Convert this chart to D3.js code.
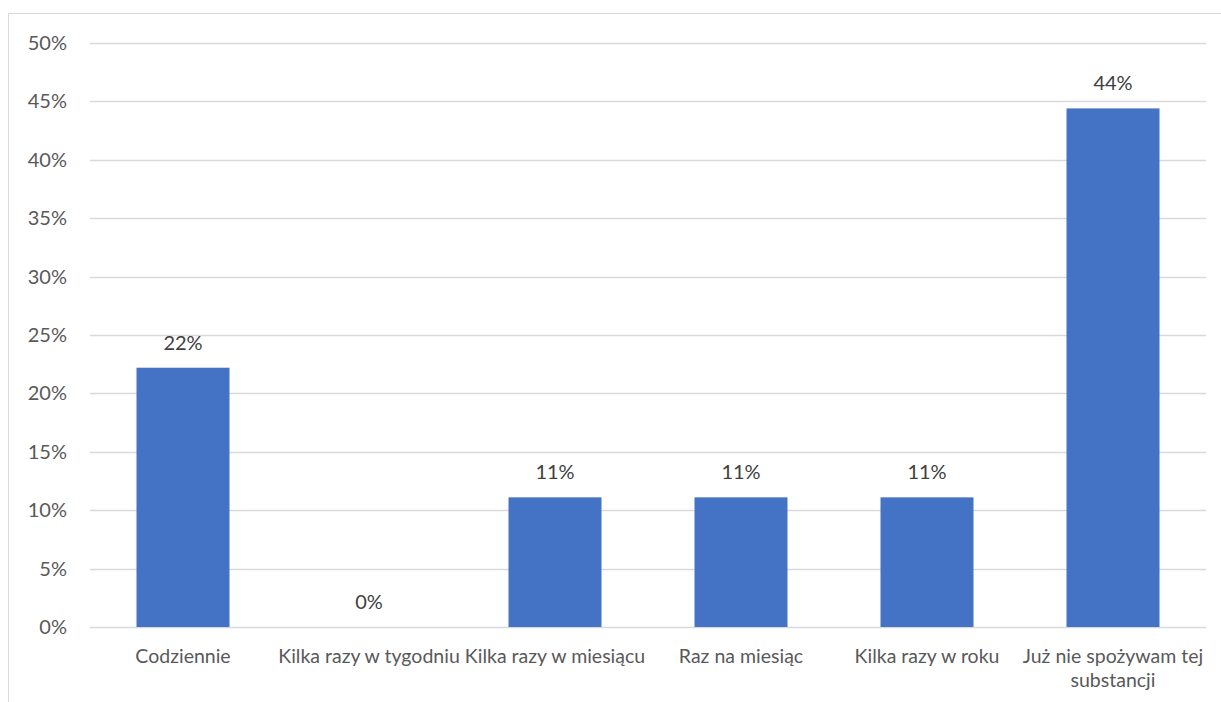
<!DOCTYPE html>
<html><head><meta charset="utf-8">
<script src="https://cdn.jsdelivr.net/npm/d3@7"></script>
<style>body{margin:0;background:#fff;} text{font-family:Lato, "Open Sans", sans-serif;}</style>
</head><body>
<svg id="c" width="1221" height="702"></svg>
<script>
const categories = ["Codziennie","Kilka razy w tygodniu","Kilka razy w miesiącu","Raz na miesiąc","Kilka razy w roku","Już nie spożywam tej substancji"];
const values = [0.222, 0, 0.111, 0.111, 0.111, 0.444];
const dataLabels = ["22%","0%","11%","11%","11%","44%"];
const yTicks = [0,0.05,0.10,0.15,0.20,0.25,0.30,0.35,0.40,0.45,0.50];

const svg = d3.select("#c");
svg.append("rect").attr("x",8.5).attr("y",13.5).attr("width",1230).attr("height",720)
  .attr("fill","#fff").attr("stroke","#d9d9d9").attr("stroke-width",1);

const x = d3.scaleBand().domain(categories).range([90,1206]).paddingInner(0.5).paddingOuter(0.25);
const y = d3.scaleLinear().domain([0,0.5]).range([627,43]);

const grid = svg.append("g");
grid.selectAll("line").data(yTicks).join("line")
  .attr("x1",90).attr("x2",1206).attr("y1",d=>Math.round(y(d))+0.5).attr("y2",d=>Math.round(y(d))+0.5)
  .attr("stroke","#d9d9d9").attr("stroke-width",1.3);

const yAxis = d3.axisLeft(y).tickValues(yTicks).tickFormat(d3.format(".0%")).tickSize(0).tickPadding(0);
const ya = svg.append("g").attr("transform","translate(67,0)").call(yAxis);
ya.select(".domain").remove();
ya.selectAll("text").attr("font-size",20).attr("fill","#595959").style("font-family","Lato, sans-serif");

svg.append("g").selectAll("rect").data(values).join("rect")
  .attr("x",(d,i)=>x(categories[i])).attr("width",x.bandwidth())
  .attr("y",d=>y(d)).attr("height",d=>y(0)-y(d)).attr("fill","#4472c4");

svg.append("g").selectAll("text").data(values).join("text")
  .attr("x",(d,i)=>x(categories[i])+x.bandwidth()/2).attr("y",d=>y(d)-18)
  .attr("text-anchor","middle").attr("font-size",20).attr("fill","#404040")
  .text((d,i)=>dataLabels[i]);

const xAxis = d3.axisBottom(x).tickSize(0).tickPadding(0);
const xa = svg.append("g").attr("transform","translate(0,627)").call(xAxis);
xa.select(".domain").remove();
xa.selectAll("text").remove();
const cx = d3.scaleBand().domain(categories).range([90,1206]);
const labelLines = [["Codziennie"],["Kilka razy w tygodniu"],["Kilka razy w miesiącu"],["Raz na miesiąc"],["Kilka razy w roku"],["Już nie spożywam tej","substancji"]];
categories.forEach((c,i)=>{
  const t = svg.append("text").attr("x",cx(c)+cx.bandwidth()/2).attr("y",663)
    .attr("text-anchor","middle").attr("font-size",19.5).attr("fill","#595959");
  labelLines[i].forEach((l,j)=>t.append("tspan").attr("x",cx(c)+cx.bandwidth()/2).attr("dy",j?24:0).text(l));
});
</script>
</body></html>
